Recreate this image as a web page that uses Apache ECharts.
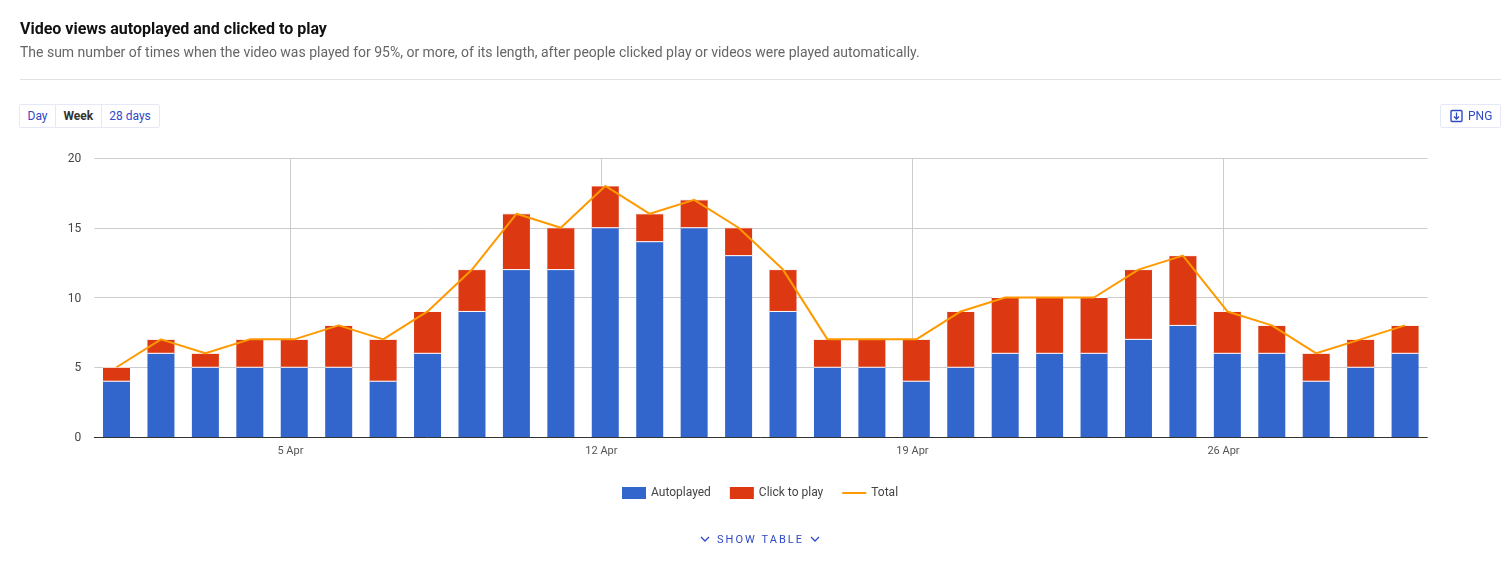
<!DOCTYPE html>
<html>
<head>
<meta charset="utf-8">
<script src="https://cdn.jsdelivr.net/npm/echarts@6/dist/echarts.min.js"></script>
<style>
html,body{margin:0;padding:0;background:#fff;width:1512px;height:564px;overflow:hidden;font-family:Roboto,sans-serif}
#chart{position:absolute;left:0;top:0;width:1512px;height:564px}
.abs{position:absolute;white-space:nowrap}
#t{left:20px;top:20px;font-size:16px;font-weight:700;color:#111;line-height:18px}
#s{left:20px;top:43px;font-size:14px;letter-spacing:-0.007px;color:#666;line-height:18px}
#hr{left:20px;top:79px;width:1481px;height:1px;background:#e2e2e2}
.btns{left:19px;top:104px;height:22px;border:1px solid #e6e8f8;border-radius:2px;display:flex;font-size:12px;line-height:22px;color:#2f49c8;background:#fff}
.btns span{padding:0 7.5px;border-left:1px solid #e6e8f8}
.btns span:first-child{border-left:0}
.btns span:last-child{padding-right:8.5px}
.btns b{font-weight:700;color:#333}
#png{left:1440px;top:104px;width:59px;height:22px;border:1px solid #e6e8f8;border-radius:2px;font-size:12px;line-height:22px;color:#2f49c8}
#png svg{position:absolute;left:9px;top:4px}
#png span{position:absolute;left:27px}
#show{left:700px;top:533px;font-size:11px;line-height:14px;letter-spacing:2.05px;color:#2f49c8;width:122px;height:14px}
#show span{position:absolute;left:17px}
#show svg{position:absolute;top:2px}
</style>
</head>
<body>
<div id="chart"></div>
<div class="abs" id="t">Video views autoplayed and clicked to play</div>
<div class="abs" id="s">The sum number of times when the video was played for 95%, or more, of its length, after people clicked play or videos were played automatically.</div>
<div class="abs" id="hr"></div>
<div class="abs btns"><span>Day</span><span><b>Week</b></span><span>28 days</span></div>
<div class="abs" id="png"><svg width="13" height="14" viewBox="0 0 13 14"><rect x="1" y="1.5" width="11" height="11" rx="1" fill="none" stroke="#2f49c8" stroke-width="1.4"/><path d="M6.5 3.5v6M4 7.5l2.5 2.5L9 7.5" fill="none" stroke="#2f49c8" stroke-width="1.3"/></svg><span>PNG</span></div>
<div class="abs" id="show"><svg style="left:0" width="10" height="8" viewBox="0 0 10 8"><path d="M1 2l4 4 4-4" fill="none" stroke="#2f49c8" stroke-width="1.3"/></svg><span>SHOW TABLE</span><svg style="left:110px" width="10" height="8" viewBox="0 0 10 8"><path d="M1 2l4 4 4-4" fill="none" stroke="#2f49c8" stroke-width="1.3"/></svg></div>
<script>
const days = ['1 Apr','2 Apr','3 Apr','4 Apr','5 Apr','6 Apr','7 Apr','8 Apr','9 Apr','10 Apr','11 Apr','12 Apr','13 Apr','14 Apr','15 Apr','16 Apr','17 Apr','18 Apr','19 Apr','20 Apr','21 Apr','22 Apr','23 Apr','24 Apr','25 Apr','26 Apr','27 Apr','28 Apr','29 Apr','30 Apr'];
const autoplayed = [4,6,5,5,5,5,4,6,9,12,12,15,14,15,13,9,5,5,4,5,6,6,6,7,8,6,6,4,5,6];
const clickToPlay = [1,1,1,2,2,3,3,3,3,4,3,3,2,2,2,3,2,2,3,4,4,4,4,5,5,3,2,2,2,2];
const total = [5,7,6,7,7,8,7,9,12,16,15,18,16,17,15,12,7,7,7,9,10,10,10,12,13,9,8,6,7,8];
const weekTicks = [4.913,11.913,18.913,25.913];
const weekLabels = ['5 Apr','12 Apr','19 Apr','26 Apr'];
const chart = echarts.init(document.getElementById('chart'),null,{renderer:'canvas'});
const txt = {fontFamily:'Roboto',fontSize:12,color:'#444'};
const divider = {type:'scatter',symbol:'rect',symbolSize:[27,1],itemStyle:{color:'#fff',opacity:1},silent:true,z:3};
chart.setOption({
  animation:false,
  textStyle:{fontFamily:'Roboto'},
  grid:{left:94.3,right:84.7,top:158,bottom:127,containLabel:false},
  legend:{left:617,top:482,itemWidth:24,itemHeight:12,itemGap:19,
    textStyle:{...txt},
    data:[{name:'Autoplayed',icon:'rect'},{name:'Click to play',icon:'rect'},
      {name:'Total',icon:'path://M0 0h24v.01H0zM0 5h24v2H0zM0 11.99h24V12H0z'}]},
  xAxis:[
    {type:'category',data:days,position:'bottom',
      axisLine:{onZero:false,lineStyle:{color:'#333',width:1}},
      axisTick:{show:false},axisLabel:{show:false},splitLine:{show:false}},
    {type:'value',min:0.5,max:30.5,position:'bottom',
      axisLine:{show:false},
      axisTick:{show:false,customValues:weekTicks},
      axisLabel:{...txt,color:'#555',fontSize:11,margin:9,customValues:weekTicks,
        formatter:v=>weekLabels[weekTicks.indexOf(v)]||''},
      splitLine:{show:true,lineStyle:{color:'#ccc',width:1}}}
  ],
  yAxis:{type:'value',min:0,max:20,interval:5,
    axisLine:{show:false},axisTick:{show:false},
    axisLabel:{...txt,margin:13,formatter:'{a|{value}}',rich:{a:{...txt,padding:[2,0,0,0]}}},
    splitLine:{lineStyle:{color:'#ccc',width:1}}},
  series:[
    {name:'Autoplayed',type:'bar',stack:'a',barWidth:27,data:autoplayed,itemStyle:{color:'#3366cc'},z:2},
    {name:'Click to play',type:'bar',stack:'a',barWidth:27,data:clickToPlay,itemStyle:{color:'#dc3912'},z:2},
    {...divider,name:'Divider',data:autoplayed},
    {...divider,name:'Top edge',data:total},
    {name:'Total',type:'line',data:total,symbol:'none',lineStyle:{color:'#ff9900',width:2},itemStyle:{color:'#ff9900'},z:5}
  ]
});
</script>
</body>
</html>
